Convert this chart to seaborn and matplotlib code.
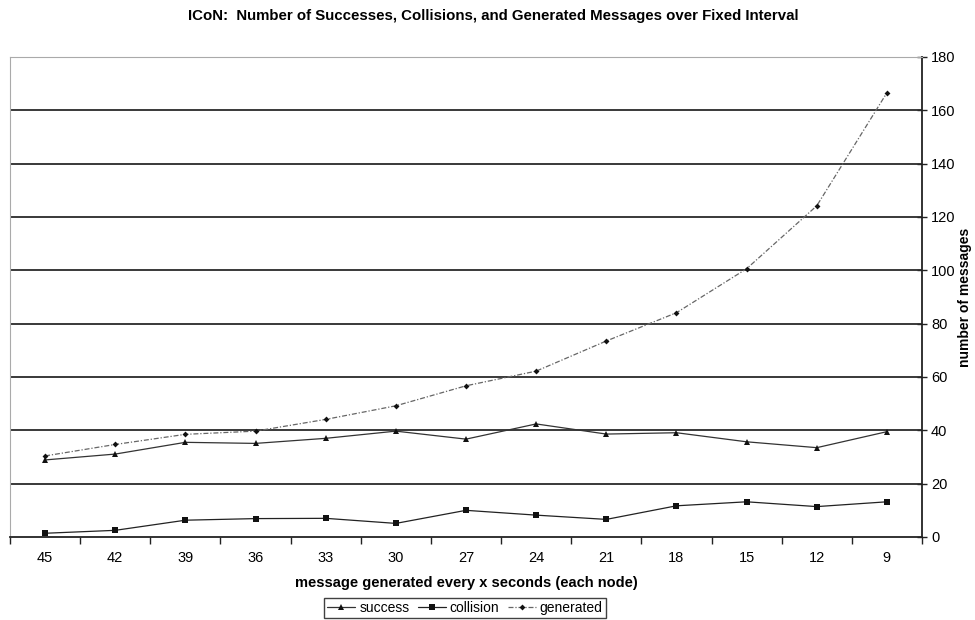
import numpy as np
import pandas as pd
import matplotlib
matplotlib.use("Agg")
import matplotlib.pyplot as plt
import seaborn as sns

# Interval between generated messages (seconds, per node)
intervals = ["45", "42", "39", "36", "33", "30", "27", "24", "21", "18", "15", "12", "9"]

success = [28.9, 31.1, 35.5, 35.1, 37.0, 39.7, 36.7, 42.4, 38.6, 39.1, 35.7, 33.5, 39.5]
collision = [1.4, 2.5, 6.3, 6.9, 7.0, 5.1, 10.0, 8.2, 6.6, 11.7, 13.2, 11.4, 13.2]
generated = [30.4, 34.7, 38.5, 39.7, 44.1, 49.2, 56.7, 62.2, 73.5, 84.1, 100.6, 124.2, 166.6]

y_ticks = [0, 20, 40, 60, 80, 100, 120, 140, 160, 180]

sns.set_theme(style="white")
plt.rcParams["font.family"] = ["Liberation Sans", "DejaVu Sans"]
plt.rcParams["text.color"] = "black"
plt.rcParams["axes.labelcolor"] = "black"
plt.rcParams["xtick.color"] = "black"
plt.rcParams["ytick.color"] = "black"

pos = np.arange(len(intervals))
df = pd.DataFrame({
    "pos": np.tile(pos, 3),
    "value": success + collision + generated,
    "series": ["success"] * len(pos) + ["collision"] * len(pos) + ["generated"] * len(pos),
})

fig = plt.figure(figsize=(9.75, 6.2), dpi=100)
ax = fig.add_axes([10 / 975, 83 / 620, 912 / 975, 480 / 620])

# horizontal gridlines
for v in y_ticks[1:-1]:
    ax.axhline(v, color="#2a2a2a", lw=1.3, zorder=1)

styles = {
    "success": dict(marker="^", linestyle="-", color="#333333", ms=5, lw=0.9),
    "collision": dict(marker="s", linestyle="-", color="#222222", ms=4.5, lw=0.9),
    "generated": dict(marker="D", linestyle=(0, (4, 1.5, 1, 1.5)), color="#666666", ms=3, lw=0.9),
}
for name in ["success", "collision", "generated"]:
    st = styles[name]
    sns.lineplot(data=df[df.series == name], x="pos", y="value", ax=ax,
                 label=name, color=st["color"], linewidth=st["lw"],
                 linestyle=st["linestyle"], marker=st["marker"],
                 markersize=st["ms"], markeredgewidth=0,
                 markerfacecolor="#111111", zorder=3)

ax.set_xlim(-0.5, len(intervals) - 0.5)
ax.set_ylim(0, 180)

# category axis: tick marks between categories, labels at centres
ax.set_xticks(np.arange(-0.5, len(intervals)))
ax.set_xticklabels([])
ax.set_xticks(pos, minor=True)
ax.set_xticklabels(intervals, minor=True, fontsize=10.5)
ax.tick_params(axis="x", which="major", direction="out", length=5, width=1, color="#222222", bottom=True)
ax.tick_params(axis="x", which="minor", length=0, pad=10)

ax.yaxis.tick_right()
ax.yaxis.set_label_position("right")
ax.set_yticks(y_ticks)
ax.set_yticklabels([str(v) for v in y_ticks], fontsize=10.5)
ax.tick_params(axis="y", direction="inout", length=7, width=1, color="#222222", right=True, left=False, pad=3)

for side in ["top", "left"]:
    ax.spines[side].set_color("#aaaaaa")
    ax.spines[side].set_linestyle((0, (1, 1)))
    ax.spines[side].set_linewidth(0.8)
for side in ["bottom", "right"]:
    ax.spines[side].set_color("#222222")
    ax.spines[side].set_linewidth(1.3)

ax.set_xlabel("message generated every x seconds (each node)", fontsize=10.5,
              fontweight="bold", labelpad=8)
ax.set_ylabel("number of messages", fontsize=10, fontweight="bold", labelpad=2)

fig.suptitle("ICoN:  Number of Successes, Collisions, and Generated Messages over Fixed Interval",
             x=0.506, y=0.985, fontsize=10.8, fontweight="bold")

leg = ax.legend(loc="center", bbox_to_anchor=(465 / 975, 12 / 620),
                bbox_transform=fig.transFigure, ncol=3, frameon=True,
                fontsize=10, handlelength=2.0, handletextpad=0.3,
                columnspacing=0.6, borderpad=0.25, fancybox=False)
leg.get_frame().set_edgecolor("#111111")
leg.get_frame().set_linewidth(1.0)

fig.savefig("out.png", dpi=100, facecolor="white")
